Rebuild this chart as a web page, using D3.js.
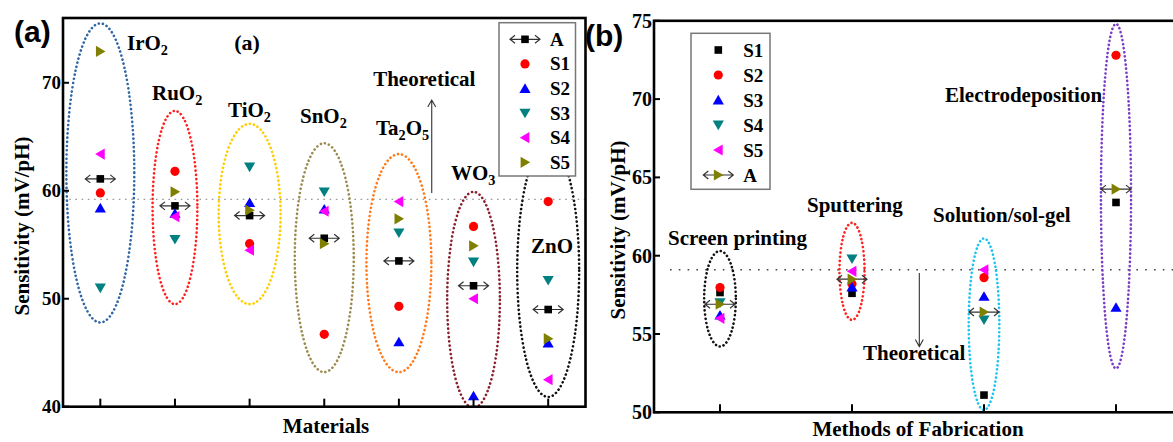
<!DOCTYPE html>
<html><head><meta charset="utf-8">
<script src="https://cdn.jsdelivr.net/npm/d3@7"></script>
<style>
body{margin:0;background:#fff}
svg{display:block}
text{font-family:"Liberation Serif","Times New Roman",serif;font-weight:bold;fill:#000}
</style>
</head><body>
<svg id="c" width="1173" height="442"></svg>
<script>
// ---------------- Panel (a) data ----------------
const materials = ["IrO2","RuO2","TiO2","SnO2","Ta2O5","WO3","ZnO"];
const matA  = [61.1, 58.6, 57.7, 55.6, 53.5, 51.2, 49.0];
const matS1 = [59.8, 61.8, 55.1, 46.7, 49.3, 56.7, 59.0];
const matS2 = [58.4, 57.9, 58.9, 58.3, 46.0, 41.0, 45.9];
const matS3 = [51.0, 55.5, 62.2, 59.9, 56.1, 53.4, 51.7];
const matS4 = [63.4, 57.6, 54.5, 58.1, 59.0, 50.0, 42.5];
const matS5 = [72.9, 59.9, 58.2, 55.1, 57.4, 54.9, 46.3];
const matEllTop = [75.5, 67.4, 66.2, 64.4, 63.4, 59.9, 64.3];
const matEllBot = [47.8, 49.5, 49.5, 43.2, 43.2, 39.9, 40.9];
const yTicksA = [40, 50, 60, 70];
const theoreticalA = 59.2;

// ---------------- Panel (b) data ----------------
const methods = ["Screen printing","Sputtering","Solution/sol-gel","Electrodeposition"];
const metS1 = [57.65, 57.6, 51.1, 63.4];
const metS2 = [57.97, 58.2, 58.6, 72.8];
const metS3 = [56.2, 58.0, 57.4, 56.7];
const metS4 = [57.0, 59.8, 55.9, null];
const metS5 = [56.0, 59.0, 59.1, null];
const metA  = [56.9, 58.5, 56.4, 64.25];
const metEllTop = [60.3, 62.1, 61.1, 74.8];
const metEllBot = [54.2, 55.9, 50.15, 52.8];
const yTicksB = [50, 55, 60, 65, 70, 75];
const theoreticalB = 59.1;

// ---------------- styling / layout ----------------
const svg = d3.select("#c");
const C = {red:"#ff0000", blue:"#0000ff", teal:"#008080", magenta:"#ff00ff", olive:"#808000", black:"#000"};
const ellColorsA = ["#2f66a6","#ff2020","#ffcc00","#9c8b4e","#ff7a1a","#8b1f2a","#111"];
const ellHalfWA = [0.455, 0.30, 0.415, 0.395, 0.435, 0.353, 0.415];
const ellColorsB = ["#111","#ff2020","#1ec4f0","#7a3cc4"];
const ellHalfWB = [0.12, 0.095, 0.116, 0.114];

const shapes = {
  up:    "M0,-5.2L5.6,4.4L-5.6,4.4Z",
  down:  "M0,5.2L5.6,-4.4L-5.6,-4.4Z",
  left:  "M-5.2,0L4.4,-5.6L4.4,5.6Z",
  right: "M5.2,0L-4.4,-5.6L-4.4,5.6Z"
};
function drawMarker(g, type, color, x, y, arrow){
  const m = g.append("g").attr("transform", `translate(${x},${y})`);
  if (arrow){
    m.append("path").attr("d","M-15,0H15M-10,-4L-15,0L-10,4M10,-4L15,0L10,4")
      .attr("fill","none").attr("stroke","#333").attr("stroke-width",1.2);
  }
  if (type === "circle") m.append("circle").attr("r",4.6).attr("fill",color);
  else if (type === "square") m.append("rect").attr("x",-3.8).attr("y",-3.8).attr("width",7.6).attr("height",7.6).attr("fill",color);
  else m.append("path").attr("d",shapes[type]).attr("fill",color);
}
function richText(g, x, y, parts, size){
  const t = g.append("text").attr("x",x).attr("y",y).attr("font-size",size);
  let shifted = false;
  parts.forEach(p=>{
    if (typeof p === "string"){
      t.append("tspan").attr("dy", shifted ? -5 : 0).text(p); shifted = false;
    } else {
      t.append("tspan").attr("font-size",size*0.68).attr("dy", shifted?0:5).text(p.sub); shifted = true;
    }
  });
  return t;
}

// ================= PANEL (a) =================
const A = {l:63, r:585.5, t:18, b:406.7};
const xa = d3.scaleLinear().domain([0.5, 7.5]).range([A.l, A.r]);
const ya = d3.scaleLinear().domain([40, 76]).range([A.b, A.t]);
const ga = svg.append("g");
svg.append("clipPath").attr("id","clipA").append("rect")
  .attr("x",A.l).attr("y",A.t).attr("width",A.r-A.l).attr("height",A.b-A.t);

ga.append("line").attr("x1",A.l).attr("x2",A.r).attr("y1",ya(theoreticalA)).attr("y2",ya(theoreticalA))
  .attr("stroke","#999").attr("stroke-width",1.4).attr("stroke-dasharray","1.6 4.6");

const ellGA = ga.append("g").attr("clip-path","url(#clipA)");
materials.forEach((m,i)=>{
  const cx = xa(i+1), top = ya(matEllTop[i]), bot = ya(matEllBot[i]);
  ellGA.append("ellipse").attr("cx",cx).attr("cy",(top+bot)/2)
    .attr("rx", xa(1+ellHalfWA[i]) - xa(1)).attr("ry",(bot-top)/2)
    .attr("fill","none").attr("stroke",ellColorsA[i]).attr("stroke-width",2.6)
    .attr("stroke-linecap","round").attr("stroke-dasharray","0.1 4.1");
});

const seriesA = [
  {name:"A",  vals:matA,  type:"square", color:C.black, arrow:true},
  {name:"S1", vals:matS1, type:"circle", color:C.red},
  {name:"S2", vals:matS2, type:"up",     color:C.blue},
  {name:"S3", vals:matS3, type:"down",   color:C.teal},
  {name:"S4", vals:matS4, type:"left",   color:C.magenta},
  {name:"S5", vals:matS5, type:"right",  color:C.olive}
];
seriesA.forEach(s=>{
  s.vals.forEach((v,i)=>{ if(v!=null) drawMarker(ga, s.type, s.color, xa(i+1), ya(v), s.arrow); });
});

const labA = [
  {x:127, y:50,  parts:["IrO",{sub:"2"}]},
  {x:152, y:100, parts:["RuO",{sub:"2"}]},
  {x:228, y:117, parts:["TiO",{sub:"2"}]},
  {x:300, y:123, parts:["SnO",{sub:"2"}]},
  {x:376, y:135, parts:["Ta",{sub:"2"},"O",{sub:"5"}]},
  {x:451, y:180, parts:["WO",{sub:"3"}]},
  {x:531, y:253, parts:["ZnO"]}
];
labA.forEach(l=> richText(ga, l.x, l.y, l.parts, 21));

ga.append("text").attr("x",247).attr("y",50).attr("text-anchor","middle").attr("font-size",22).text("(a)");

ga.append("text").attr("x",xa(5.34)).attr("y",ya(69.7)).attr("text-anchor","middle").attr("font-size",21).text("Theoretical");
ga.append("path").attr("d",`M${xa(5.44)},${ya(59.8)}V${ya(68.4)}M${xa(5.44)-4},${ya(68.4)+7}L${xa(5.44)},${ya(68.4)}L${xa(5.44)+4},${ya(68.4)+7}`)
  .attr("fill","none").attr("stroke","#333").attr("stroke-width",1.1);

yTicksA.forEach(v=>{
  ga.append("line").attr("x1",A.l).attr("x2",A.l+6).attr("y1",ya(v)).attr("y2",ya(v)).attr("stroke","#000").attr("stroke-width",2);
  ga.append("text").attr("x",A.l-2).attr("y",ya(v)+6).attr("text-anchor","end").attr("font-size",19).text(v);
});
materials.forEach((m,i)=>{
  ga.append("line").attr("x1",xa(i+1)).attr("x2",xa(i+1)).attr("y1",A.b).attr("y2",A.b-8).attr("stroke","#000").attr("stroke-width",2);
});
ga.append("rect").attr("x",A.l).attr("y",A.t).attr("width",A.r-A.l).attr("height",A.b-A.t)
  .attr("fill","none").attr("stroke","#000").attr("stroke-width",2.6);

const legA = ga.append("g");
legA.append("rect").attr("x",499).attr("y",22.7).attr("width",76.5).attr("height",153.3)
  .attr("fill","#fff").attr("stroke","#777").attr("stroke-width",1.5);
seriesA.forEach((s,k)=>{
  const y = 39.3 + k*24.6;
  drawMarker(legA, s.type, s.color, 525, y, s.arrow);
  legA.append("text").attr("x",550).attr("y",y+6.5).attr("font-size",19).text(s.name);
});

ga.append("text").attr("transform","translate(29,226) rotate(-90)").attr("text-anchor","middle").attr("font-size",21).text("Sensitivity (mV/pH)");
ga.append("text").attr("x",326).attr("y",433).attr("text-anchor","middle").attr("font-size",21).text("Materials");
ga.append("text").attr("x",14).attr("y",42).attr("font-size",30)
  .style("font-family","'Liberation Sans',Arial,sans-serif").text("(a)");

// ================= PANEL (b) =================
const B = {l:654, r:1182, t:20.8, b:412.3};
const xb = d3.scaleLinear().domain([0.5, 4.5]).range([B.l, B.r]);
const yb = d3.scaleLinear().domain([50, 75]).range([B.b, B.t]);
const gb = svg.append("g");
svg.append("clipPath").attr("id","clipB").append("rect")
  .attr("x",B.l).attr("y",B.t).attr("width",B.r-B.l).attr("height",B.b-B.t);

gb.append("line").attr("x1",670).attr("x2",B.r).attr("y1",yb(theoreticalB)).attr("y2",yb(theoreticalB))
  .attr("stroke","#444").attr("stroke-width",1.5).attr("stroke-dasharray","1.6 7.2");

const ellGB = gb.append("g").attr("clip-path","url(#clipB)");
methods.forEach((m,i)=>{
  const top = yb(metEllTop[i]), bot = yb(metEllBot[i]);
  ellGB.append("ellipse").attr("cx",xb(i+1)).attr("cy",(top+bot)/2)
    .attr("rx", xb(1+ellHalfWB[i]) - xb(1)).attr("ry",(bot-top)/2)
    .attr("fill","none").attr("stroke",ellColorsB[i]).attr("stroke-width",2.6)
    .attr("stroke-linecap","round").attr("stroke-dasharray","0.1 4.0");
});

const seriesB = [
  {name:"S1", vals:metS1, type:"square", color:C.black},
  {name:"S2", vals:metS2, type:"circle", color:C.red},
  {name:"S3", vals:metS3, type:"up",     color:C.blue},
  {name:"S4", vals:metS4, type:"down",   color:C.teal},
  {name:"S5", vals:metS5, type:"left",   color:C.magenta},
  {name:"A",  vals:metA,  type:"right",  color:C.olive, arrow:true}
];
seriesB.forEach(s=>{
  s.vals.forEach((v,i)=>{ if(v!=null) drawMarker(gb, s.type, s.color, xb(i+1), yb(v), s.arrow); });
});

const labB = [
  {x:668, y:245, t:"Screen printing"},
  {x:807, y:212, t:"Sputtering"},
  {x:933, y:222, t:"Solution/sol-gel"},
  {x:945, y:102, t:"Electrodeposition"}
];
labB.forEach(l=> gb.append("text").attr("x",l.x).attr("y",l.y).attr("font-size",21).text(l.t));

gb.append("text").attr("x",863).attr("y",360).attr("font-size",21).text("Theoretical");
{
  const ax = xb(2.51), y0 = yb(58.9), y1 = yb(54.2);
  gb.append("path").attr("d",`M${ax},${y0}V${y1}M${ax-4},${y1-7}L${ax},${y1}L${ax+4},${y1-7}`)
    .attr("fill","none").attr("stroke","#333").attr("stroke-width",1.1);
}

yTicksB.forEach(v=>{
  gb.append("line").attr("x1",B.l).attr("x2",B.l+6).attr("y1",yb(v)).attr("y2",yb(v)).attr("stroke","#000").attr("stroke-width",2);
  gb.append("text").attr("x",B.l-2).attr("y",yb(v)+7).attr("text-anchor","end").attr("font-size",20).text(v);
});
methods.forEach((m,i)=>{
  gb.append("line").attr("x1",xb(i+1)).attr("x2",xb(i+1)).attr("y1",B.b).attr("y2",B.b-8).attr("stroke","#000").attr("stroke-width",2);
});
gb.append("rect").attr("x",B.l).attr("y",B.t).attr("width",B.r-B.l).attr("height",B.b-B.t)
  .attr("fill","none").attr("stroke","#000").attr("stroke-width",2.6);

const legB = gb.append("g");
legB.append("rect").attr("x",691).attr("y",33.3).attr("width",79).attr("height",156)
  .attr("fill","#fff").attr("stroke","#777").attr("stroke-width",1.5);
seriesB.forEach((s,k)=>{
  const y = 50 + k*25;
  drawMarker(legB, s.type, s.color, 718.3, y, s.arrow);
  legB.append("text").attr("x",743.3).attr("y",y+6.5).attr("font-size",19).text(s.name);
});

gb.append("text").attr("transform","translate(625,230) rotate(-90)").attr("text-anchor","middle").attr("font-size",21).text("Sensitivity (mV/pH)");
gb.append("text").attr("x",918).attr("y",436).attr("text-anchor","middle").attr("font-size",21).text("Methods of Fabrication");
gb.append("text").attr("x",585).attr("y",46).attr("font-size",30)
  .style("font-family","'Liberation Sans',Arial,sans-serif").text("(b)");
</script>
</body></html>
